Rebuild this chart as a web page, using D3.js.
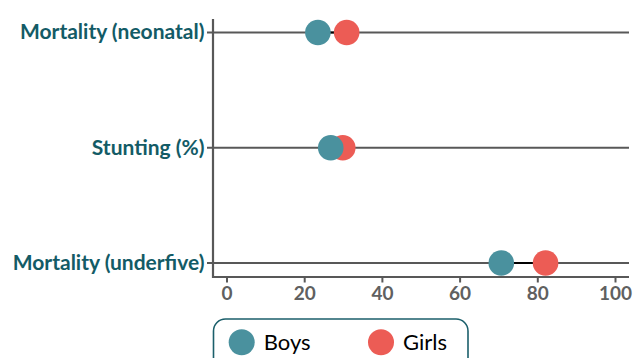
<!DOCTYPE html>
<html>
<head>
<meta charset="utf-8">
<script src="https://cdn.jsdelivr.net/npm/d3@7"></script>
<style>
  body { margin: 0; background: #fff; }
  svg { display: block; }
</style>
</head>
<body>
<svg id="chart" width="634" height="358"></svg>
<script>
// data
let categories = ["Mortality (neonatal)", "Stunting (%)", "Mortality (underfive)"];
let boys = [23.4, 26.7, 70.6];
let girls = [30.8, 29.8, 82.0];
let xTicks = [0, 20, 40, 60, 80, 100];
let seriesNames = ["Boys", "Girls"];
let seriesColors = ["#4a919e", "#ec5c55"];

let svg = d3.select("#chart");
let fontFam = "Lato, 'Open Sans', sans-serif";

let x = d3.scaleLinear().domain([0, 100]).range([227, 615.5]);
let y = d3.scalePoint().domain(categories).range([32.5, 263]);

let axisX0 = 213, axisX1 = 629, axisY = 277, axisTop = 19;
let gridCol = "#585858";

// category lines
svg.append("g").selectAll("line")
    .data(categories)
    .enter().append("line")
    .attr("x1", axisX0 - 6)
    .attr("x2", axisX1)
    .attr("y1", d => y(d))
    .attr("y2", d => y(d))
    .style("stroke", gridCol)
    .style("stroke-width", 2);

// y axis line
svg.append("line")
    .attr("x1", axisX0).attr("x2", axisX0)
    .attr("y1", axisTop).attr("y2", axisY + 1)
    .style("stroke", gridCol).style("stroke-width", 2.2);

// x axis
let xAxis = svg.append("g")
    .attr("transform", "translate(0," + axisY + ")");
xAxis.append("line")
    .attr("x1", axisX0).attr("x2", axisX1)
    .style("stroke", gridCol).style("stroke-width", 2.2);
let tick = xAxis.selectAll(".tick")
    .data(xTicks)
    .enter().append("g")
    .attr("class", "tick")
    .attr("transform", d => "translate(" + x(d) + ",0)");
tick.append("line")
    .attr("y1", 0).attr("y2", 5.5)
    .style("stroke", gridCol).style("stroke-width", 2);
tick.append("text")
    .attr("y", 23)
    .attr("text-anchor", "middle")
    .style("font-family", fontFam)
    .style("font-weight", "bold")
    .style("font-size", "19px")
    .style("fill", "#606060")
    .text(d => d);

// category labels
svg.append("g").selectAll("text")
    .data(categories)
    .enter().append("text")
    .attr("x", 204.5)
    .attr("y", d => y(d))
    .attr("dy", "0.33em")
    .attr("text-anchor", "end")
    .style("font-family", fontFam)
    .style("font-weight", "bold")
    .style("font-size", "21px")
    .style("fill", "#135b66")
    .text(d => d);

// connectors
svg.append("g").selectAll("line")
    .data(categories)
    .enter().append("line")
    .attr("x1", (d, i) => x(boys[i]))
    .attr("x2", (d, i) => x(girls[i]))
    .attr("y1", d => y(d))
    .attr("y2", d => y(d))
    .style("stroke", "#000")
    .style("stroke-width", 2);

let r = 12.8;
// girls first, boys on top
svg.append("g").selectAll("circle")
    .data(categories)
    .enter().append("circle")
    .attr("cx", (d, i) => x(girls[i]))
    .attr("cy", d => y(d))
    .attr("r", r)
    .style("fill", seriesColors[1]);

svg.append("g").selectAll("circle")
    .data(categories)
    .enter().append("circle")
    .attr("cx", (d, i) => x(boys[i]))
    .attr("cy", d => y(d))
    .attr("r", r)
    .style("fill", seriesColors[0]);

// legend
let legend = svg.append("g");
legend.append("rect")
    .attr("x", 213.5).attr("y", 319)
    .attr("width", 254.5).attr("height", 60)
    .attr("rx", 12)
    .style("fill", "#fff")
    .style("stroke", "#1b5f6b")
    .style("stroke-width", 1.6);

let legX = [241.7, 381];
let item = legend.selectAll(".item")
    .data(seriesNames)
    .enter().append("g")
    .attr("transform", (d, i) => "translate(" + legX[i] + ",342.3)");
item.append("circle")
    .attr("r", 13)
    .style("fill", (d, i) => seriesColors[i]);
item.append("text")
    .attr("x", 22)
    .attr("dy", "0.36em")
    .style("font-family", fontFam)
    .style("font-size", "22px")
    .style("fill", "#000")
    .text(d => d);
</script>
</body>
</html>
